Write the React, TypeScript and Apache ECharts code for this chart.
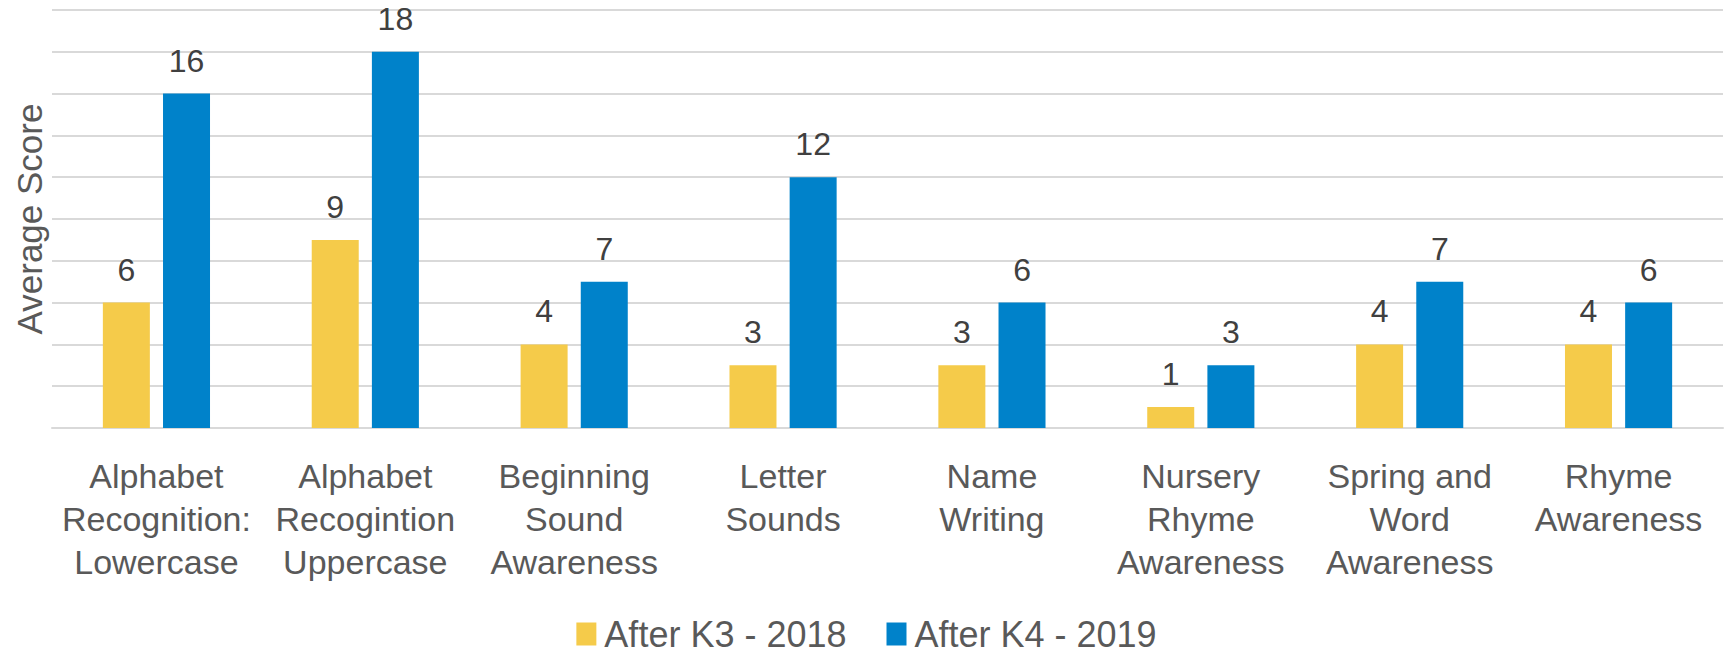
import React, { useEffect, useRef } from "react";
import * as echarts from "echarts";

const categories = [
  "Alphabet\nRecognition:\nLowercase",
  "Alphabet\nRecogintion\nUppercase",
  "Beginning\nSound\nAwareness",
  "Letter\nSounds",
  "Name\nWriting",
  "Nursery\nRhyme\nAwareness",
  "Spring and\nWord\nAwareness",
  "Rhyme\nAwareness",
];
const seriesNames = ["After K3 - 2018", "After K4 - 2019"];
const k3Values = [6, 9, 4, 3, 3, 1, 4, 4];
const k4Values = [16, 18, 7, 12, 6, 3, 7, 6];
const yAxisName = "Average Score";

const FONT = "'Liberation Sans', Arial, sans-serif";

export default function App() {
  const ref = useRef<HTMLDivElement>(null);
  useEffect(() => {
    document.body.style.margin = "0";
    if (!ref.current) return;
    const chart = echarts.init(ref.current, null, { renderer: "svg" });
    const labelStyle = {
      show: true,
      position: "top" as const,
      distance: 17,
      color: "#404040",
      fontSize: 32,
      fontFamily: FONT,
    };
    chart.setOption({
      animation: false,
      backgroundColor: "#ffffff",
      grid: { left: 52, right: 10, top: 10, bottom: 228 },
      legend: {
        data: seriesNames,
        bottom: 0,
        left: "center",
        padding: 0,
        itemWidth: 20,
        itemHeight: 23,
        itemGap: 40,
        icon: "rect",
        textStyle: {
          color: "#595959",
          fontSize: 36,
          lineHeight: 44,
          fontFamily: FONT,
          padding: [0, 0, 0, 3],
        },
      },
      xAxis: {
        type: "category",
        data: categories,
        axisLine: { show: true, lineStyle: { color: "#d9d9d9", width: 2 } },
        axisTick: { show: false },
        axisLabel: {
          interval: 0,
          margin: 26,
          color: "#595959",
          fontSize: 34,
          lineHeight: 43,
          fontFamily: FONT,
          align: "center",
        },
      },
      yAxis: {
        type: "value",
        min: 0,
        max: 20,
        interval: 2,
        name: yAxisName,
        nameLocation: "middle",
        nameGap: 5,
        nameRotate: 90,
        nameTextStyle: { color: "#595959", fontSize: 35, fontFamily: FONT },
        axisLine: { show: false },
        axisTick: { show: false },
        axisLabel: { show: false },
        splitLine: { lineStyle: { color: "#d9d9d9", width: 2 } },
      },
      series: [
        {
          name: seriesNames[0],
          type: "bar",
          data: k3Values,
          barWidth: 47,
          barGap: "28%",
          itemStyle: { color: "#F5CB4A" },
          label: labelStyle,
        },
        {
          name: seriesNames[1],
          type: "bar",
          data: k4Values,
          barWidth: 47,
          barGap: "28%",
          itemStyle: { color: "#0082CA" },
          label: labelStyle,
        },
      ],
    });
    return () => chart.dispose();
  }, []);
  return <div ref={ref} style={{ width: 1733, height: 656 }} />;
}
